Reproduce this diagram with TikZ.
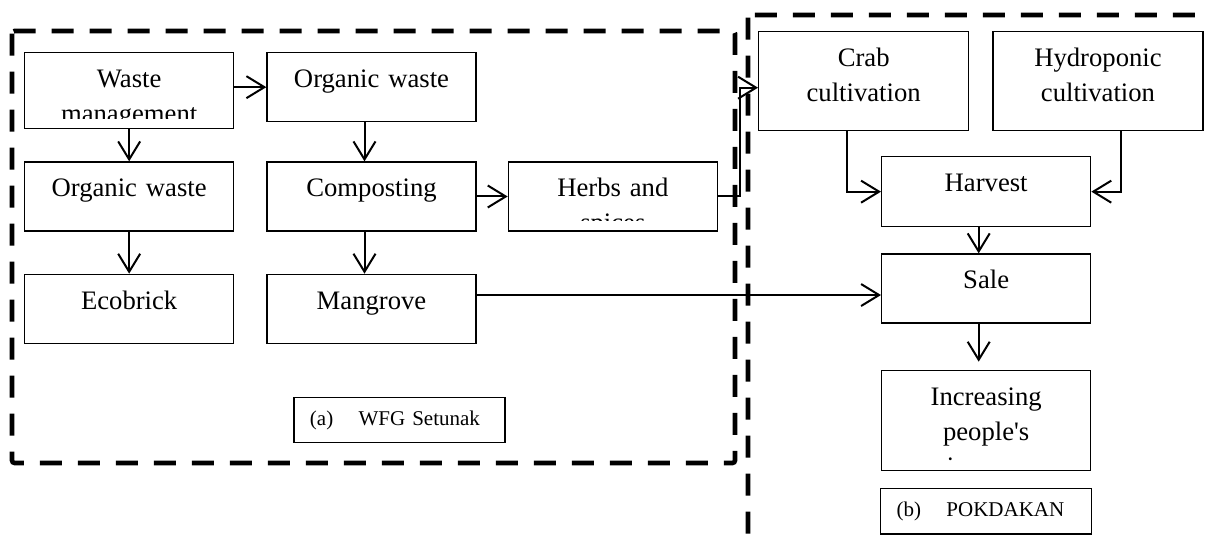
\documentclass[tikz,border=0pt]{standalone}
\usepackage{fontspec}
\setmainfont{Liberation Serif}
\usetikzlibrary{arrows.meta, positioning}

\newcommand{\boxfont}{\fontsize{20pt}{26.25pt}\selectfont}
\newcommand{\tagfont}{\fontsize{15.75pt}{18pt}\selectfont}

\begin{document}
\begin{tikzpicture}[
    node distance=24pt and 24pt,
    box/.style={rectangle, draw, line width=1pt, inner sep=0pt,
        minimum width=156.75pt, minimum height=51.75pt,
        path picture={
            \clip (path picture bounding box.north west) rectangle ([yshift=7.5pt]path picture bounding box.south east);
            \node[boxtext] at ([yshift=-26.25pt]path picture bounding box.north) {#1};
        }},
    boxtext/.style={anchor=base, inner sep=0pt, text width=150pt, align=center, font=\boxfont},
    tagbox/.style={rectangle, draw, line width=1pt, inner xsep=12pt, inner ysep=0pt,
        minimum height=34pt, text width=134.25pt, align=left, font=\tagfont},
    frame/.style={line width=3.5pt, dash pattern=on 16.5pt off 12pt, rounded corners=2pt},
    arrow/.style={->, >={Straight Barb[length=13.5pt, width=16.5pt]}, line width=1.5pt}
]
\useasboundingbox (0,0) rectangle (906pt,-403.5pt);
\clip (0,0) rectangle (906pt,-403.5pt);

% Dashed frames
\draw[frame] (9pt,-23.25pt) rectangle (551.25pt,-347.25pt);
\draw[frame] (561pt,-11.25pt) rectangle (930pt,-425pt);

% WFG Setunak
\node[box={Waste\\management}, minimum height=57pt, anchor=north west] (waste) at (18pt,-39pt) {};
\node[box={Organic waste}, right=24pt of waste.north east, anchor=north west] (orgA) {};
\node[box={Organic waste}, below=24pt of waste] (orgB) {};
\node[box={Composting}, right=24pt of orgB] (compost) {};
\node[box={Herbs and\\spices}, right=23.25pt of compost] (herbs) {};
\node[box={Ecobrick}, below=31.5pt of orgB] (ecobrick) {};
\node[box={Mangrove}, right=24pt of ecobrick] (mangrove) {};
\node[tagbox] (tagA) at (299.6pt,-315pt) {(a)\hspace{19pt}WFG Setunak};

% POKDAKAN
\node[box={Crab\\cultivation}, minimum width=157.5pt, minimum height=74.25pt, anchor=north west] (crab) at (568.5pt,-23.25pt) {};
\node[box={Hydroponic\\cultivation}, minimum width=157.5pt, minimum height=74.25pt, right=17.25pt of crab] (hydro) {};
\node[box={Harvest}, minimum height=52.5pt, anchor=north west] (harvest) at (660.75pt,-117pt) {};
\node[box={Sale}, below=19.5pt of harvest] (sale) {};
\node[box={Increasing\\people\textquotesingle s\\income}, minimum height=75pt, below=34.5pt of sale] (income) {};
\node[tagbox, below=12.75pt of income] (tagB) {(b)\hspace{19pt}POKDAKAN};

% Arrows
\draw[arrow] (waste.east |- orgA.west) -- (orgA.west);
\draw[arrow] (waste) -- (orgB);
\draw[arrow] ([xshift=-5.25pt]orgA.south) -- ([xshift=-5.25pt]compost.north);
\draw[arrow] (orgB) -- (ecobrick);
\draw[arrow] ([xshift=-5.25pt]compost.south) -- ([xshift=-5.25pt]mangrove.north);
\draw[arrow] (compost) -- (herbs);
\coordinate (crabIn) at ([yshift=-4.9pt]crab.west);
\draw[arrow] (herbs.east) -- ++(16.5pt,0) |- (crabIn);
\coordinate (saleIn) at ([yshift=-4.9pt]sale.west);
\draw[arrow] (mangrove.east |- saleIn) -- (saleIn);
\draw[arrow] ([xshift=-12.75pt]crab.south) |- (harvest.west);
\draw[arrow] ([xshift=17.6pt]hydro.south) |- (harvest.east);
\draw[arrow] ([xshift=-5.6pt]harvest.south) -- ([xshift=-5.6pt]sale.north);
\draw[arrow, shorten >=6pt] ([xshift=-5.6pt]sale.south) -- ([xshift=-5.6pt]income.north);

\end{tikzpicture}
\end{document}
